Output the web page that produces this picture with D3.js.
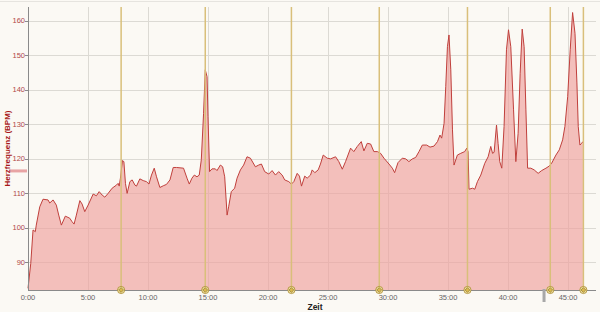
<!DOCTYPE html>
<html>
<head>
<meta charset="utf-8">
<script src="https://cdn.jsdelivr.net/npm/d3@7"></script>
<style>
  html, body { margin: 0; padding: 0; background: #fbf9f4; }
  svg { display: block; }
  text { font-family: "Liberation Sans", Arial, sans-serif; }
</style>
</head>
<body>
<svg id="chart" width="600" height="312"></svg>
<script>
// ---- data (minutes, bpm) ----
const timeMin = [0.00,0.23,0.42,0.61,0.69,0.98,1.25,1.67,1.81,2.09,2.36,2.56,2.78,3.11,3.48,3.67,3.84,4.03,4.32,4.51,4.73,5.01,5.43,5.70,5.93,6.18,6.40,6.68,7.01,7.37,7.51,7.60,7.70,7.87,7.99,8.12,8.26,8.49,8.68,8.91,9.04,9.32,9.60,9.87,10.08,10.29,10.52,10.71,10.99,11.27,11.54,11.83,12.10,12.38,
12.96,13.25,13.44,13.66,13.86,14.08,14.27,14.44,14.63,14.77,14.92,15.00,15.13,15.33,15.61,15.75,16.03,16.22,16.39,16.59,16.72,16.94,17.22,17.42,17.70,17.97,18.25,18.53,18.95,19.22,19.45,19.72,20.06,20.34,20.62,20.89,21.18,21.39,21.73,21.95,22.15,22.43,22.62,22.79,23.06,23.26,23.54,23.68,23.90,24.18,24.37,24.60,
24.93,25.21,25.63,25.90,26.19,26.46,26.88,27.15,27.44,27.77,27.99,28.27,28.55,28.82,29.11,29.38,29.66,30.08,30.36,30.55,30.83,31.19,31.47,31.74,32.03,32.30,32.58,32.86,33.22,33.50,33.83,34.12,34.33,34.47,34.67,34.81,34.95,35.08,35.23,35.37,35.50,35.78,36.06,36.39,36.56,36.67,
36.75,37.04,37.23,37.45,37.73,38.06,38.34,38.56,38.71,38.84,39.04,39.17,39.31,39.48,39.67,39.87,40.04,40.23,40.46,40.65,40.84,41.01,41.18,41.34,41.49,41.63,41.90,42.18,42.51,42.80,43.16,43.43,43.63,43.99,44.27,44.55,44.74,44.97,45.18,45.38,45.58,45.74,45.85,45.99,46.13,46.24];
const heartRate = [82.5,89.7,99.4,98.9,100.8,106.1,108.3,108.1,107.2,108.1,106.6,103.7,100.8,103.4,102.8,101.8,101.1,103.7,107.9,106.9,104.7,106.6,109.8,109.3,110.5,109.5,108.9,110.0,111.5,112.4,112.9,112.1,114.4,119.5,119.2,112.9,110.0,113.4,113.9,112.4,112.1,114.2,113.7,113.4,112.7,115.3,117.3,114.8,111.7,112.2,112.6,113.9,117.5,117.5,
117.3,114.4,112.7,114.4,115.3,114.8,115.3,119.7,133.2,145.8,143.8,132.2,116.3,117.1,117.1,116.6,118.2,117.7,114.8,103.7,106.1,110.5,111.5,114.4,116.8,118.2,120.6,120.2,117.7,118.2,118.5,116.3,115.6,116.6,115.3,116.3,115.3,113.9,113.4,112.7,113.4,115.8,115.0,112.1,115.0,114.4,115.3,116.8,116.0,116.8,118.5,121.1,
120.2,120.0,120.6,119.2,117.0,119.2,123.1,122.1,123.6,125.0,122.3,124.5,124.3,122.1,122.1,121.6,120.2,118.5,117.3,116.0,118.9,120.2,120.0,119.2,120.0,120.4,122.1,124.0,124.0,123.4,123.7,125.0,126.9,126.0,130.3,140.9,152.5,155.9,145.8,128.4,118.2,121.1,121.6,122.1,123.1,122.1,
111.2,111.5,111.2,113.4,115.3,118.7,120.6,123.6,121.6,121.9,129.8,124.5,119.2,117.3,129.4,151.6,157.4,152.5,134.2,119.2,127.4,144.8,157.6,152.5,134.2,117.3,117.3,116.8,115.8,116.6,117.3,117.9,118.7,121.1,122.6,125.5,129.4,138.0,151.6,162.4,156.4,142.0,129.4,124.0,124.5,125.0];
const lapTimes = [7.76, 14.77, 21.95, 29.27, 36.62, 43.52, 46.28];
const xTickMinutes = [0, 5, 10, 15, 20, 25, 30, 35, 40, 45];
const xTickLabels = ["0:00","5:00","10:00","15:00","20:00","25:00","30:00","35:00","40:00","45:00"];
const yTicks = [90, 100, 110, 120, 130, 140, 150, 160];
const avgHeartRate = 116.5;
const sliderMarkerMin = 43.0;

// ---- layout ----
const svg = d3.select("#chart");
const pLeft = 28, pRight = 596, pTop = 7, pBottom = 290;
const x = d3.scaleLinear().domain([0, 47.33]).range([pLeft, pRight]);
const y = d3.scaleLinear().domain([82, 164]).range([pBottom, pTop]);

const data = timeMin.map((t, i) => ({t, v: heartRate[i]}));

// top faint border
svg.append("line").attr("x1", 0).attr("x2", 600).attr("y1", 1.5).attr("y2", 1.5)
  .attr("stroke", "#e6e4df").attr("stroke-width", 1);

// grid
const g = svg.append("g");
g.selectAll(".hg").data(yTicks).enter().append("line")
  .attr("x1", pLeft).attr("x2", pRight)
  .attr("y1", d => Math.round(y(d)) + 0.5).attr("y2", d => Math.round(y(d)) + 0.5)
  .attr("stroke", "#dcdad4").attr("stroke-width", 1);
g.selectAll(".vg").data(xTickMinutes.slice(1)).enter().append("line")
  .attr("x1", d => Math.round(x(d)) + 0.5).attr("x2", d => Math.round(x(d)) + 0.5)
  .attr("y1", pTop).attr("y2", pBottom)
  .attr("stroke", "#dcdad4").attr("stroke-width", 1);

// area + line
const area = d3.area().x(d => x(d.t)).y0(y(82)).y1(d => y(d.v));
const line = d3.line().x(d => x(d.t)).y(d => y(d.v));
svg.append("path").datum(data).attr("d", area)
  .attr("fill", "#ee9f9c").attr("fill-opacity", 0.65);
svg.append("path").datum(data).attr("d", line)
  .attr("fill", "none").attr("stroke", "#c0403c").attr("stroke-width", 1);

// lap lines
svg.selectAll(".lap").data(lapTimes).enter().append("line")
  .attr("x1", d => x(d)).attr("x2", d => x(d))
  .attr("y1", pTop).attr("y2", pBottom)
  .attr("stroke", "#d9bf7a").attr("stroke-width", 1.5);

// axes
svg.append("line").attr("x1", pLeft + 0.5).attr("x2", pLeft + 0.5).attr("y1", pTop).attr("y2", pBottom)
  .attr("stroke", "#8a8a8a").attr("stroke-width", 1);
svg.append("line").attr("x1", pLeft).attr("x2", pRight).attr("y1", pBottom + 0.5).attr("y2", pBottom + 0.5)
  .attr("stroke", "#8a8a8a").attr("stroke-width", 1);

// y ticks
svg.selectAll(".yt").data(yTicks).enter().append("line")
  .attr("x1", pLeft - 3).attr("x2", pLeft)
  .attr("y1", d => Math.round(y(d)) + 0.5).attr("y2", d => Math.round(y(d)) + 0.5)
  .attr("stroke", "#8a8a8a");
svg.selectAll(".yl").data(yTicks).enter().append("text")
  .attr("x", pLeft - 3).attr("y", d => y(d) + 2.5)
  .attr("text-anchor", "end").attr("font-size", 7.5).attr("fill", "#b04848")
  .text(d => d);

// x labels
svg.selectAll(".xl").data(xTickMinutes).enter().append("text")
  .attr("x", d => x(d)).attr("y", 300)
  .attr("text-anchor", "middle").attr("font-size", 7.5).attr("fill", "#666")
  .text((d, i) => xTickLabels[i]);

// lap markers
const mk = svg.selectAll(".mk").data(lapTimes).enter().append("g")
  .attr("transform", d => `translate(${x(d)},${pBottom})`);
mk.append("circle").attr("r", 3.6).attr("fill", "#efe0a0").attr("stroke", "#a88a30").attr("stroke-width", 0.8);
mk.append("path").attr("d", "M0,-2.4L2.4,0L0,2.4L-2.4,0Z").attr("fill", "#d8b850").attr("stroke", "#8a6e20").attr("stroke-width", 0.6);

// slider marker
svg.append("rect").attr("x", x(sliderMarkerMin) - 1.5).attr("y", pBottom - 1).attr("width", 3).attr("height", 13)
  .attr("fill", "#a8a8a8");

// average HR marker on y axis
svg.append("rect").attr("x", 10).attr("y", y(avgHeartRate) - 1.5).attr("width", 17).attr("height", 3)
  .attr("fill", "#e8a4a4");

// axis titles
svg.append("text").attr("transform", "translate(9.5,148.5) rotate(-90)")
  .attr("text-anchor", "middle").attr("font-size", 8).attr("font-weight", "bold").attr("fill", "#a81818")
  .text("Herzfrequenz (BPM)");
svg.append("text").attr("x", 315).attr("y", 310)
  .attr("text-anchor", "middle").attr("font-size", 8.5).attr("font-weight", "bold").attr("fill", "#222")
  .text("Zeit");
</script>
</body>
</html>
